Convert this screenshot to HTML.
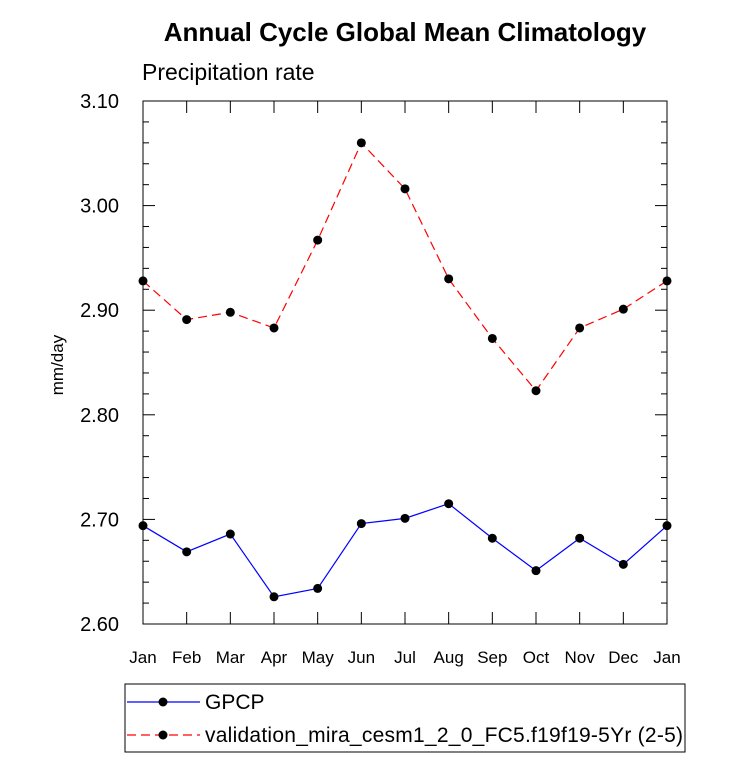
<!DOCTYPE html>
<html><head><meta charset="utf-8"><style>body{margin:0;background:#fff}svg{display:block;font-family:"Liberation Sans",sans-serif}</style></head>
<body>
<svg width="733" height="774">
<text x="405" y="41" text-anchor="middle" font-size="26" font-weight="bold">Annual Cycle Global Mean Climatology</text>
<text x="142" y="80" font-size="23">Precipitation rate</text>
<text transform="translate(63,365) rotate(-90)" text-anchor="middle" font-size="17">mm/day</text>
<g id="axes"></g>
<g id="series"></g>
<g id="legend"></g>
</svg>
<script>
const months=["Jan","Feb","Mar","Apr","May","Jun","Jul","Aug","Sep","Oct","Nov","Dec","Jan"];
const gpcp=[2.694,2.669,2.686,2.626,2.634,2.696,2.701,2.715,2.682,2.651,2.682,2.657,2.694];
const model=[2.928,2.891,2.898,2.883,2.967,3.060,3.016,2.930,2.873,2.823,2.883,2.901,2.928];
const yTicks=[2.60,2.70,2.80,2.90,3.00,3.10];
const ns="http://www.w3.org/2000/svg";
const L=143,R=667,T=101,B=624,ymin=2.6,ymax=3.1;
const xs=i=>L+(R-L)*i/(months.length-1);
const ys=v=>B-(v-ymin)/(ymax-ymin)*(B-T);
function mk(tag,at,parent){const e=document.createElementNS(ns,tag);for(const k in at)e.setAttribute(k,at[k]);parent.appendChild(e);return e;}
const ax=document.getElementById('axes');
const frame=mk('rect',{x:L,y:T,width:R-L,height:B-T,fill:'none',stroke:'#000','stroke-width':1},ax);


for(let v=ymin;v<=ymax+1e-9;v+=0.02){
  const y=ys(v);const major=Math.abs(Math.round(v*10)-v*10)<1e-6;const len=major?12:6;
  mk('line',{x1:L,x2:L+len,y1:y,y2:y,stroke:'#000'},ax);
  mk('line',{x1:R,x2:R-len,y1:y,y2:y,stroke:'#000'},ax);
}
yTicks.forEach(v=>{const t=mk('text',{x:L-24,y:ys(v)+7,'text-anchor':'end','font-size':20},ax);t.textContent=v.toFixed(2);

});
months.forEach((m,i)=>{const x=xs(i);
  mk('line',{x1:x,x2:x,y1:B,y2:B-12,stroke:'#000'},ax);
  mk('line',{x1:x,x2:x,y1:T,y2:T+12,stroke:'#000'},ax);
  const t=mk('text',{x:x,y:B+39,'text-anchor':'middle','font-size':17},ax);t.textContent=m;
  
  
});
const sg=document.getElementById('series');
function series(vals,color,dash,name){
  const g=mk('g',{},sg);
  
  
  const pl=mk('polyline',{points:vals.map((v,i)=>xs(i)+','+ys(v)).join(' '),fill:'none',stroke:color,'stroke-width':1.2,'stroke-dasharray':dash},g);
  
  
  vals.forEach((v,i)=>{const c=mk('circle',{cx:xs(i),cy:ys(v),r:4.5,fill:'#000'},g);
    
    });
}
series(model,'#f00','9 5','model-series');
series(gpcp,'#00f','none','gpcp-series');
const lg=document.getElementById('legend');


mk('rect',{x:125,y:684,width:560,height:68,fill:'none',stroke:'#000'},lg);
const ent=[['GPCP','#00f','none',702],['validation_mira_cesm1_2_0_FC5.f19f19-5Yr (2-5)','#f00','9 5',735]];
ent.forEach(e=>{const g=mk('g',{},lg);
  
  
  mk('line',{x1:127,x2:200,y1:e[3],y2:e[3],stroke:e[1],'stroke-width':1.2,'stroke-dasharray':e[2]},g);
  mk('circle',{cx:163,cy:e[3],r:4.5,fill:'#000'},g);
  const t=mk('text',{x:205,y:e[3]+7,'font-size':21,textLength:e[0].length>10?478:null},g);
  if(!(e[0].length>10))t.removeAttribute('textLength');
  t.textContent=e[0];});
</script>
</body></html>
